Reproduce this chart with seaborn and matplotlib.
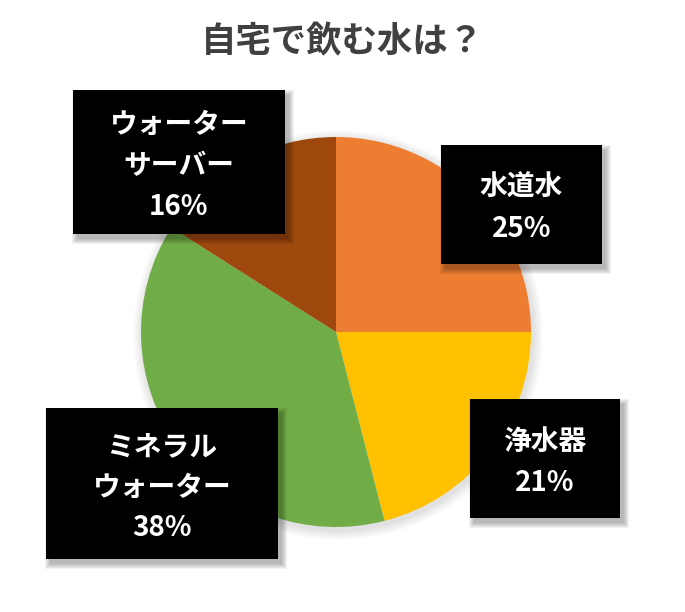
import matplotlib
matplotlib.use("Agg")
import matplotlib.pyplot as plt
import seaborn as sns
from matplotlib.patches import Rectangle, Circle

# --- データ ---
labels = ["水道水", "浄水器", "ミネラル\nウォーター", "ウォーター\nサーバー"]
shares = [25, 21, 38, 16]
colors = ["#ED7D31", "#FFC000", "#70AD47", "#9E480E"]
title = "自宅で飲む水は？"

# ラベル枠（ピクセル座標: 左, 上, 右, 下）
boxes = [(441, 145, 602, 264), (470, 399, 620, 518),
         (46, 408, 278, 559), (73, 90, 285, 234)]

# --- 初期設定 ---
sns.set_theme(style="white")
plt.rcParams['font.family'] = ['Noto Sans CJK JP', 'DejaVu Sans']

W, H = 685, 612
fig = plt.figure(figsize=(W / 100, H / 100), dpi=100)
ax = fig.add_axes([0, 0, 1, 1])

cx, cy, r = 336, H - 332, 195

# 円のぼかし影
for i in range(10):
    ax.add_patch(Circle((cx + 2, cy - 3), r + 10 - i, color="black",
                        alpha=0.012, lw=0, zorder=0))

ax.pie(shares, colors=sns.color_palette(colors), startangle=90,
       counterclock=False, center=(cx, cy), radius=r,
       wedgeprops=dict(linewidth=0))

# ラベル枠と影
for (l, t, rr, b), lab, v in zip(boxes, labels, shares):
    w, h = rr - l, b - t
    y0 = H - b
    for i in range(6):
        ax.add_patch(Rectangle((l + 4 - i, y0 - 5 - i), w + 2 * i, h + 2 * i,
                               color="black", alpha=0.05, lw=0, zorder=3))
    ax.add_patch(Rectangle((l, y0), w, h, color="black", lw=0, zorder=4))
    ax.text(l + w / 2, y0 + h / 2 - 4, f"{lab}\n{v}%", color="white",
            fontsize=20, fontweight="bold", ha="center", va="center",
            linespacing=1.58, zorder=5)

fig.text(342 / W, 1 - 42 / H, title, color="#404040", fontsize=25.5,
         fontweight="bold", ha="center", va="center")

ax.set_xlim(0, W)
ax.set_ylim(0, H)
ax.set_aspect("equal", adjustable="box")
ax.axis("off")

fig.savefig("out.png", dpi=100, facecolor="white")
